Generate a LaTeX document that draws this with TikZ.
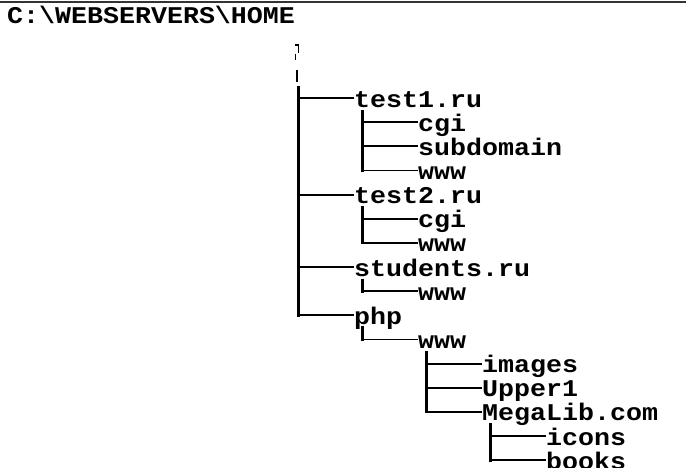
\documentclass[tikz,border=0pt]{standalone}
\usepackage{fontspec}
\newfontfamily\dosfont{Liberation Mono}[FakeStretch=1.11]
\begin{document}
\begin{tikzpicture}[x=1pt,y=-1pt,
  item/.style={anchor=west,inner sep=0pt,text height=18pt,text depth=0pt,
    font=\dosfont\bfseries\fontsize{24}{24}\selectfont},
  vline/.style={line width=3pt,line cap=rect},
  hline/.style={line width=1.8pt},
  glyphmark/.style={line width=1.6pt}]
\useasboundingbox[fill=white] (0,0) rectangle (686,467);
\draw[line width=2pt,black!80] (0,2) -- (686,2);
\node[item,anchor=base west] (root) at (7,23) {C:\textbackslash WEBSERVERS\textbackslash HOME};
% level nodes
\node[item] (t1)  at (354,98)     {test1.ru};
\node[item] (t1c) at (418,122.15) {cgi};
\node[item] (t1s) at (418,146.3)  {subdomain};
\node[item] (t1w) at (418,170.45) {www};
\node[item] (t2)  at (354,194.6)  {test2.ru};
\node[item] (t2c) at (418,218.75) {cgi};
\node[item] (t2w) at (418,242.9)  {www};
\node[item] (st)  at (354,267.05) {students.ru};
\node[item] (stw) at (418,291.2)  {www};
\node[item] (php) at (354,315.35) {php};
\node[item] (pw)  at (418,339.5)  {www};
\node[item] (img) at (482,363.65) {images};
\node[item] (up)  at (482,387.8)  {Upper1};
\node[item] (ml)  at (482,411.95) {MegaLib.com};
\node[item] (ic)  at (546,436.1)  {icons};
\node[item] (bk)  at (546,460.25) {books};
% marks above the root trunk
\draw[glyphmark] (294.5,45) -- (298.3,45) -- (298.3,53);
\draw[glyphmark] (295.5,54) -- (295.5,60);
\draw[glyphmark] (297,70) -- (297,82);
% trunk coordinates
\coordinate (rv)  at (298,87);
\coordinate (t1v) at ([xshift=8pt,yshift=-13pt]t1.west);
\coordinate (t2v) at ([xshift=8pt,yshift=-13pt]t2.west);
\coordinate (stv) at ([xshift=8pt,yshift=-13pt]st.west);
\coordinate (phv) at ([xshift=8pt,yshift=-12pt]php.west);
\coordinate (pwv) at ([xshift=8pt,yshift=-13pt]pw.west);
\coordinate (mlv) at ([xshift=8pt,yshift=-13pt]ml.west);
% verticals
\draw[vline] (rv)  -- (rv |- php.west);
\draw[vline] (t1v) -- (t1v |- t1w.west);
\draw[vline] (t2v) -- (t2v |- t2w.west);
\draw[vline] (stv) -- (stv |- stw.west);
\draw[vline] (phv) -- (phv |- pw.west);
\draw[vline] (pwv) -- (pwv |- ml.west);
\draw[vline] (mlv) -- (mlv |- bk.west);
% horizontals
\foreach \c in {t1,t2,st,php} \draw[hline] (rv |- \c.west) -- (\c.west);
\foreach \c in {t1c,t1s,t1w} \draw[hline] (t1v |- \c.west) -- (\c.west);
\foreach \c in {t2c,t2w} \draw[hline] (t2v |- \c.west) -- (\c.west);
\draw[hline] (stv |- stw.west) -- (stw.west);
\draw[hline] (phv |- pw.west) -- (pw.west);
\foreach \c in {img,up,ml} \draw[hline] (pwv |- \c.west) -- (\c.west);
\foreach \c in {ic,bk} \draw[hline] (mlv |- \c.west) -- (\c.west);
\end{tikzpicture}
\end{document}
